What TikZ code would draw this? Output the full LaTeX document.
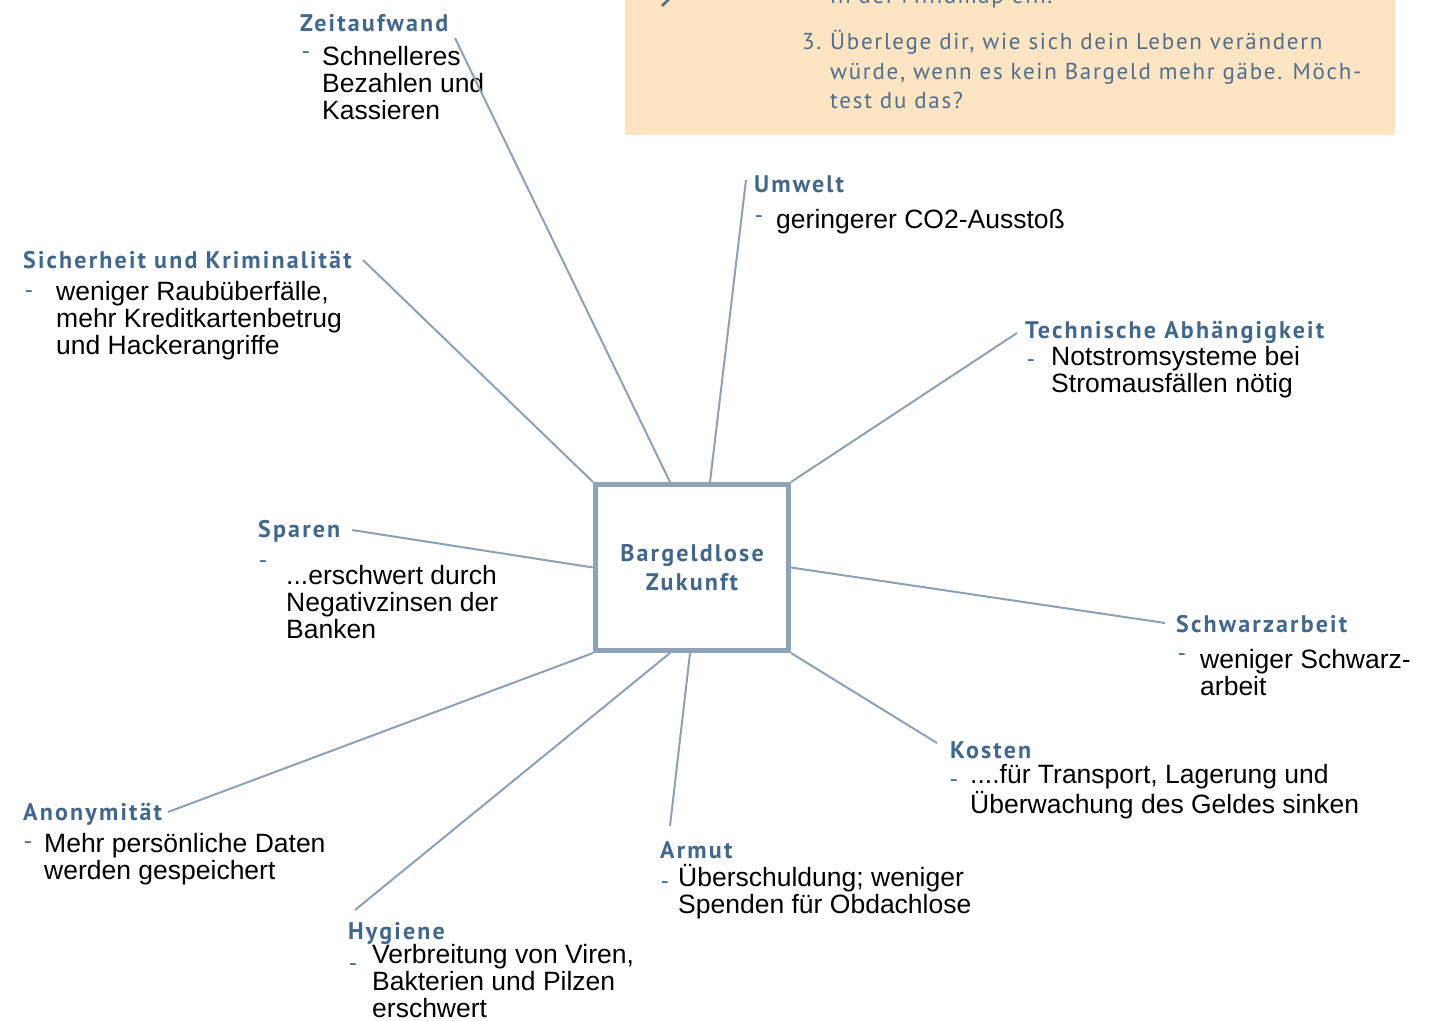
\documentclass[tikz,border=0pt]{standalone}
\usepackage{fontspec}
\setmainfont{Liberation Sans}
\newfontfamily\hdfont[LetterSpace=9]{PT Sans}
\newfontfamily\boxfont[LetterSpace=7.5]{PT Sans}
\newfontfamily\dshfont{PT Sans}
\usetikzlibrary{calc}
\definecolor{hd}{HTML}{41678A}
\definecolor{ln}{HTML}{8CA1B6}
\definecolor{bx}{HTML}{8FA3B8}
\definecolor{orbg}{HTML}{FDE4C2}
\definecolor{ortx}{HTML}{506E8C}
\newcommand{\ml}[1]{\begin{tabular}[t]{@{}l@{}}#1\end{tabular}}
\tikzset{
  head/.style={anchor=base west, inner sep=0pt, font=\hdfont\bfseries\fontsize{24}{28}\selectfont, text=hd},
  body/.style={anchor=base west, inner sep=0pt, font=\fontsize{26.5}{26.5}\selectfont, text=black},
  dsh/.style={inner sep=0pt, font=\dshfont\fontsize{24}{26}\selectfont, text=hd},
  link/.style={draw=ln, line width=2pt},
  centre/.style={draw=bx, line width=5pt, fill=white, minimum width=193pt, minimum height=166pt, inner sep=0pt, align=center, font=\hdfont\bfseries\fontsize{24}{29}\selectfont, text=hd},
  boxtxt/.style={anchor=base west, inner sep=0pt, font=\boxfont\fontsize{23}{30}\selectfont, text=ortx}
}
\begin{document}
\begin{tikzpicture}[x=1pt,y=-1pt]
\useasboundingbox (0,0) rectangle (1442,1020);
% task box
\fill[orbg] (625,0) rectangle (1395,135);
\begin{scope}
\clip (625,0) rectangle (1395,135);
\node[boxtxt] (tprev) at (830,3) {in der Mindmap ein.};
\draw[ortx, line width=2.5pt] (662,6) -- (669,-1);
\end{scope}
\node[boxtxt] (tnum) at (802,49) {3.};
\node[boxtxt] (t1) at (830,49) {Überlege dir, wie sich dein Leben verändern};
\node[boxtxt] (t2) at (830,79) {würde, wenn es kein Bargeld mehr gäbe. Möch-};
\node[boxtxt] (t3) at (830,108) {test du das?};

% centre
\node[centre] (c) at (692,567.5) {Bargeldlose\\Zukunft};

% headings
\node[head] (zeit) at (300,31) {Zeitaufwand};
\node[head] (umw) at (754,192) {Umwelt};
\node[head] (sich) at (23,268) {Sicherheit und Kriminalität};
\node[head] (tech) at (1025,338) {Technische Abhängigkeit};
\node[head] (spar) at (258,537) {Sparen};
\node[head] (schw) at (1176,632) {Schwarzarbeit};
\node[head] (kost) at (950,758) {Kosten};
\node[head] (arm) at (660,858) {Armut};
\node[head] (anon) at (23,820) {Anonymität};
\node[head] (hyg) at (348,939) {Hygiene};

% dashes
\node[dsh] (d1) at (306,56) {-};
\node[dsh] (d2) at (759,220) {-};
\node[dsh] (d3) at (29,295) {-};
\node[dsh] (d4) at (1031,364) {-};
\node[dsh] (d5) at (263,565) {-};
\node[dsh] (d6) at (1182,658) {-};
\node[dsh] (d7) at (954,784) {-};
\node[dsh] (d8) at (665,886) {-};
\node[dsh] (d9) at (28,846) {-};
\node[dsh] (d10) at (353,968) {-};

% bodies
\node[body] (bzeit) at (322,65) {\ml{Schnelleres\\Bezahlen und\\Kassieren}};
\node[body] (bumw) at (776,228) {geringerer CO2-Ausstoß};
\node[body] (bsich) at (56,300) {\ml{weniger Raubüberfälle,\\mehr Kreditkartenbetrug\\und Hackerangriffe}};
\node[body] (btech) at (1051,365) {\ml{Notstromsysteme bei\\Stromausfällen nötig}};
\node[body] (bspar) at (286,584) {\ml{...erschwert durch\\Negativzinsen der\\Banken}};
\node[body] (bschw) at (1200,668) {\ml{weniger Schwarz-\\arbeit}};
\node[body] (bkost) at (970,783) {\ml{....für Transport, Lagerung und\\Überwachung des Geldes sinken}};
\node[body] (barm) at (678,886) {\ml{Überschuldung; weniger\\Spenden für Obdachlose}};
\node[body] (banon) at (44,852) {\ml{Mehr persönliche Daten\\werden gespeichert}};
\node[body] (bhyg) at (372,963) {\ml{Verbreitung von Viren,\\Bakterien und Pilzen\\erschwert}};

% connector ends
\coordinate (ezeit) at (455,38);
\coordinate (eumw) at (746,180);
\coordinate (esich) at (363,260);
\coordinate (etech) at (1017,333);
\coordinate (espar) at (352,530);
\coordinate (eschw) at (1165,623);
\coordinate (ekost) at (937,743);
\coordinate (earm) at (670,826);
\coordinate (eanon) at (168,812);
\coordinate (ehyg) at (355,910);

\draw[link] (ezeit) -- (c.north -| 670,0);
\draw[link] (eumw) -- (c.north -| 710,0);
\draw[link] (esich) -- (c.north west);
\draw[link] (etech) -- (c.north east);
\draw[link] (espar) -- (c.west);
\draw[link] (eschw) -- (c.east);
\draw[link] (ekost) -- (c.south east);
\draw[link] (earm) -- (c.south -| 690,0);
\draw[link] (ehyg) -- (c.south -| 670,0);
\draw[link] (eanon) -- (c.south west);
\node[centre] (c2) at (c) {Bargeldlose\\Zukunft};
\end{tikzpicture}
\end{document}
